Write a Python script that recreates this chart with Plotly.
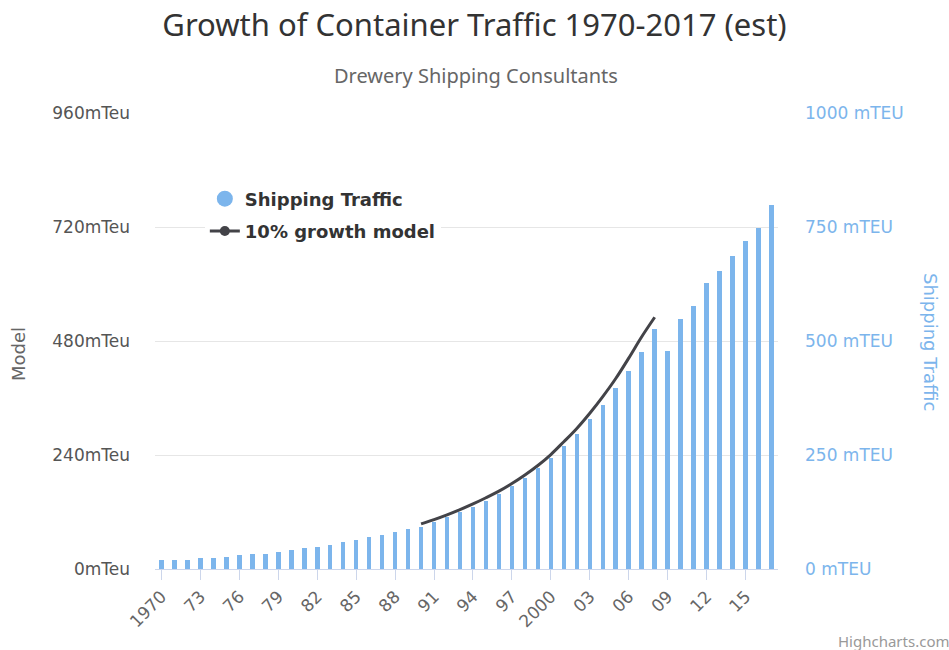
import plotly.graph_objects as go

years = list(range(1970, 2018))
traffic = [20, 20, 20, 23.5, 23.5, 27, 30, 34, 34, 37, 41, 45, 48, 52, 59, 63, 70, 74,
           81, 88, 92, 103, 114, 125, 135, 150, 164, 182, 200, 221, 243, 269, 295, 328,
           360, 396, 435, 476, 526, 479, 548, 577, 627, 653, 686, 719, 748, 798]
model_years = list(range(1990, 2009))
model = [95, 104, 114, 125, 137, 150, 164, 180, 198, 218, 241, 268, 296, 328, 363,
         401, 444, 489, 530]
tick_years = list(range(1970, 2016, 3))
tick_text = ["1970", "73", "76", "79", "82", "85", "88", "91", "94", "97", "2000",
             "03", "06", "09", "12", "15"]
left_ticks = [0, 240, 480, 720, 960]
right_ticks = [0, 250, 500, 750, 1000]

TFONT = "Noto Sans, sans-serif"
FONT = "DejaVu Sans, sans-serif"
BLUE = "#7cb5ec"
DARK = "#434348"

fig = go.Figure()
fig.add_trace(go.Bar(x=years, y=traffic, yaxis="y2", marker=dict(color=BLUE, line=dict(width=0)),
                     width=0.35, showlegend=False, name="Shipping Traffic"))
fig.add_trace(go.Scatter(x=model_years, y=model, mode="lines",
                         line=dict(color=DARK, width=3, shape="spline", smoothing=1),
                         showlegend=False, name="10% growth model"))
# legend entries
fig.add_trace(go.Scatter(x=[None], y=[None], mode="markers", name="<b>Shipping Traffic</b>",
                         legendgroup="a", marker=dict(color=BLUE, size=18, symbol="circle")))
fig.add_trace(go.Scatter(x=[None], y=[None], mode="lines+markers", name="<b>10% growth model</b>",
                         legendgroup="b", line=dict(color=DARK, width=3), marker=dict(color=DARK, size=10)))

fig.update_layout(
    width=949, height=650,
    margin=dict(l=155, r=171, t=113, b=81),
    paper_bgcolor="white", plot_bgcolor="white",
    font=dict(family=FONT, color="#666666", size=17),
    title=dict(text="Growth of Container Traffic 1970-2017 (est)", x=0.5, xanchor="center",
               y=1 - 25 / 650, yanchor="middle", font=dict(size=31, color="#333333", family=TFONT)),
    bargap=0,
    xaxis=dict(range=[1969.5, 2017.5], tickvals=tick_years, ticktext=tick_text, tickangle=-45,
               ticks="outside", ticklen=10, tickcolor="#ccd6eb", showline=True, linecolor="#ccd6eb",
               linewidth=1, showgrid=False, zeroline=False, tickfont=dict(size=17, color="#666666")),
    yaxis=dict(range=[0, 960], tickvals=left_ticks, ticktext=[f"{v}mTeu" for v in left_ticks],
               showgrid=True, gridcolor="#e6e6e6", gridwidth=1, zeroline=False, showline=False,
               tickfont=dict(size=17, color="#555555"), ticks="", ticklabelstandoff=24),
    yaxis2=dict(range=[0, 1000], tickvals=right_ticks, ticktext=[f"{v} mTEU" for v in right_ticks],
                overlaying="y", side="right", showgrid=False, zeroline=False, showline=False,
                tickfont=dict(size=17, color=BLUE), ticklabelstandoff=26),
    legend=dict(x=0.08, y=0.852, xanchor="left", yanchor="top", bgcolor="rgba(255,255,255,1)",
                font=dict(size=18, color="#333333", family=FONT), itemsizing="trace",
                tracegroupgap=6, itemwidth=30, traceorder="grouped"),
    annotations=[
        dict(text="Drewery Shipping Consultants", xref="paper", yref="paper", x=(476 - 155) / 623,
             y=(569 - 76) / 456, xanchor="center", yanchor="middle", showarrow=False,
             font=dict(size=20, color="#666666", family=TFONT)),
        dict(text="Model", xref="paper", yref="paper", x=(18 - 155) / 623, y=(569 - 354) / 456,
             xanchor="center", yanchor="middle", textangle=-90, showarrow=False,
             font=dict(size=18, color="#666666", family=FONT)),
        dict(text="Shipping Traffic", xref="paper", yref="paper", x=(931 - 155) / 623, y=(569 - 342) / 456,
             xanchor="center", yanchor="middle", textangle=90, showarrow=False,
             font=dict(size=18, color=BLUE, family=FONT)),
        dict(text="Highcharts.com", xref="paper", yref="paper", x=(836 - 155) / 623, y=(569 - 641) / 456,
             xanchor="left", yanchor="middle", showarrow=False,
             font=dict(size=15, color="#999999", family=TFONT)),
    ],
)

fig.write_html("out.html", config={"displayModeBar": False},
               post_script="document.body.style.margin='0px';document.body.style.overflow='hidden';")
